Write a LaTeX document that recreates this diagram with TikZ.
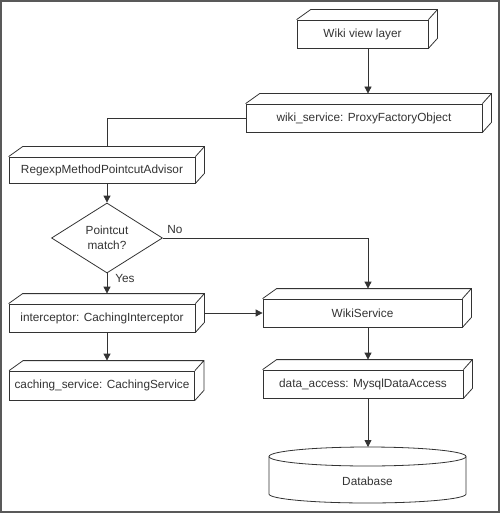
\documentclass[tikz,border=0pt]{standalone}
\usepackage{fontspec}
\setmainfont{Liberation Sans}
\usetikzlibrary{arrows.meta,shapes.geometric}
\newcommand{\cubdepth}[1]{\draw[conn] (#1.north west) -- ++(14pt,10pt) -- ([shift={(9pt,10pt)}]#1.north east) -- ([shift={(9pt,10pt)}]#1.south east) -- (#1.south east) (#1.north east) -- ++(9pt,10pt);}
\begin{document}
\begin{tikzpicture}[x=1pt,y=-1pt,
  every node/.style={font=\fontsize{11.8}{15}\selectfont, text=black!80},
  cub/.style={draw=black!80, line width=0.8pt, rectangle, inner sep=0pt, minimum height=28pt},
  conn/.style={draw=black!80, line width=0.8pt},
  arr/.style={conn, -{Triangle[length=7pt,width=7pt]}},
  lbl/.style={inner sep=0pt}]
\useasboundingbox (0,0) rectangle (500,513);
\draw[gray!70!black, line width=1.5pt] (1,1) rectangle (499,512);

% boxes
\node[cub, minimum width=131pt] (view) at (362.5,34) {Wiki view layer};
\node[cub, minimum width=236pt] (proxy) at (364,118) {wiki\_service: ProxyFactoryObject};
\node[cub, minimum width=186pt, minimum height=26pt] (regexp) at (102,170) {RegexpMethodPointcutAdvisor};
\node[diamond, conn, minimum width=111pt, minimum height=70pt, inner sep=0pt, aspect=1.6, align=center] (match) at (107,238) {Pointcut\\match?};
\node[cub, minimum width=186pt] (icpt) at (102,318) {interceptor: CachingInterceptor};
\node[cub, minimum width=185pt, minimum height=29pt] (cache) at (102,385.5) {caching\_service: CachingService};
\node[cub, minimum width=199pt] (wiki) at (362.5,313) {WikiService};
\node[cub, minimum width=200pt] (data) at (363,384) {data\_access: MysqlDataAccess};
\foreach \n in {view,proxy,regexp,icpt,cache,wiki,data} {\cubdepth{\n}}

% database cylinder
\draw[conn] (367.5,456.5) ellipse [x radius=98.5pt, y radius=9.5pt];
\draw[conn] (269,456.5) -- (269,494) arc[start angle=180, end angle=360, x radius=98.5pt, y radius=9pt] -- (466,456.5);
\node (db) at (367.5,481) {Database};
\coordinate (dbtop) at (368,447);

% labels
\node[lbl] (no) at (175,229) {No};
\node[lbl] (yes) at (125,278) {Yes};

% connectors
\draw[arr] ([xshift=5.5pt]view.south) -- ([shift={(4pt,10pt)}]proxy.north);
\draw[conn] (proxy.west) -| ([shift={(5pt,10pt)}]regexp.north);
\draw[arr] ([xshift=5pt]regexp.south) -- (match.north);
\draw[arr] (match.south) -- ([shift={(5pt,10pt)}]icpt.north);
\draw[arr] ([xshift=5pt]icpt.south) -- ([shift={(5pt,10pt)}]cache.north);
\draw[arr] (match.east) -| ([shift={(5.5pt,10pt)}]wiki.north);
\draw[arr] ([shift={(9pt,5pt)}]icpt.east) -- (wiki.west);
\draw[arr] ([xshift=5.5pt]wiki.south) -- ([shift={(5pt,10pt)}]data.north);
\draw[arr] ([xshift=5pt]data.south) -- (dbtop);
\end{tikzpicture}
\end{document}
